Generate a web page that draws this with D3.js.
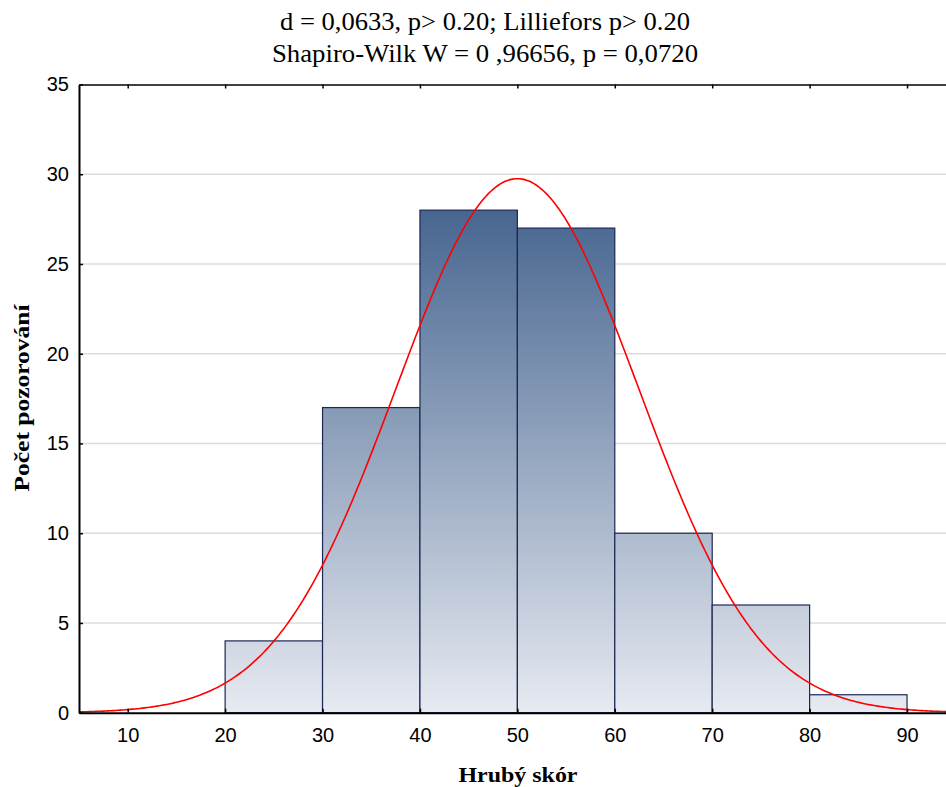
<!DOCTYPE html>
<html lang="sk">
<head>
<meta charset="UTF-8">
<title>Histogram</title>
<script src="https://d3js.org/d3.v7.min.js"></script>
<style>
	body{ margin:0; background:#fff; }
	svg{ display:block; }
	.tick text{ font-family:"Liberation Sans", Arial, sans-serif; font-size:20px; fill:#000; }
</style>
</head>
<body>
<div id="chart"></div>
<script>
	// histogram bins (lower edge) and counts
	var binStart = [20, 30, 40, 50, 60, 70, 80];
	var counts = [4, 17, 28, 27, 10, 6, 1];
	var binWidth = 10;
	var xTicks = [10, 20, 30, 40, 50, 60, 70, 80, 90];
	var yTicks = [0, 5, 10, 15, 20, 25, 30, 35];
	// fitted normal curve
	var fitMean = 50.0;
	var fitSd = 12.47;
	var titleLines = ['d = 0,0633, p> 0.20; Lilliefors p> 0.20', 'Shapiro-Wilk W = 0 ,96656, p = 0,0720'];
	var titleWidths = [410, 426];

	var width = 946, height = 787;
	var plotLeft = 79, plotRight = 946, plotTop = 84.5, plotBottom = 712.7;

	var svg = d3.select('#chart').append('svg')
		.attr('width', width)
		.attr('height', height);

	var x = d3.scaleLinear().domain([5, 94]).range([plotLeft, plotRight]);
	var y = d3.scaleLinear().domain([0, 35]).range([plotBottom, plotTop]);

	// gradient for the bars, fixed to the plot
	var grad = svg.append('defs').append('linearGradient')
		.attr('id', 'barGrad')
		.attr('gradientUnits', 'userSpaceOnUse')
		.attr('x1', 0).attr('x2', 0)
		.attr('y1', y(28)).attr('y2', y(0));
	grad.append('stop').attr('offset', '0%').attr('stop-color', '#476690');
	grad.append('stop').attr('offset', '100%').attr('stop-color', '#e7eaf1');

	// gridlines
	svg.append('g').selectAll('line')
		.data(yTicks.filter(function(d){ return d > 0 && d < 35; }))
		.enter().append('line')
		.attr('x1', plotLeft).attr('x2', plotRight)
		.attr('y1', function(d){ return y(d); })
		.attr('y2', function(d){ return y(d); })
		.attr('stroke', '#dcdcdc')
		.attr('stroke-width', 1.5);

	// bars
	svg.append('g').selectAll('rect')
		.data(counts)
		.enter().append('rect')
		.attr('x', function(d, i){ return x(binStart[i]); })
		.attr('y', function(d){ return y(d); })
		.attr('width', function(d, i){ return x(binStart[i] + binWidth) - x(binStart[i]); })
		.attr('height', function(d){ return y(0) - y(d); })
		.attr('fill', 'url(#barGrad)')
		.attr('stroke', '#1c2755')
		.attr('stroke-width', 1.2);

	// normal curve
	var n = d3.sum(counts);
	var curveX = d3.range(5, 94.01, 0.25);
	var line = d3.line()
		.x(function(d){ return x(d); })
		.y(function(d){
			var z = (d - fitMean) / fitSd;
			return y(n * binWidth / (fitSd * Math.sqrt(2 * Math.PI)) * Math.exp(-0.5 * z * z));
		});
	svg.append('path')
		.datum(curveX)
		.attr('d', line)
		.attr('fill', 'none')
		.attr('stroke', '#ff0000')
		.attr('stroke-width', 1.6);

	// axes
	var xAxis = d3.axisBottom(x).tickValues(xTicks).tickSizeInner(-4).tickSizeOuter(0).tickPadding(15);
	var gx = svg.append('g').attr('transform', 'translate(0,' + plotBottom + ')').call(xAxis);
	gx.select('.domain').attr('stroke', '#000').attr('stroke-width', 2);
	gx.selectAll('.tick line').attr('stroke', '#000').attr('stroke-width', 1.5);

	var yAxis = d3.axisLeft(y).tickValues(yTicks).tickSizeInner(-4).tickSizeOuter(0).tickPadding(10);
	var gy = svg.append('g').attr('transform', 'translate(' + plotLeft + ',0)').call(yAxis);
	gy.select('.domain').attr('stroke', '#000').attr('stroke-width', 2);
	gy.selectAll('.tick line').attr('stroke', '#000').attr('stroke-width', 1.5);

	// top border with inward ticks
	var topAxis = d3.axisTop(x).tickValues(xTicks).tickSizeInner(-4).tickSizeOuter(0).tickFormat('');
	var gt = svg.append('g').attr('transform', 'translate(0,' + plotTop + ')').call(topAxis);
	gt.select('.domain').attr('stroke', '#000').attr('stroke-width', 1.5);
	gt.selectAll('.tick line').attr('stroke', '#000').attr('stroke-width', 1.5);

	// titles
	svg.append('g').selectAll('text')
		.data(titleLines)
		.enter().append('text')
		.attr('x', 485)
		.attr('y', function(d, i){ return 29.5 + i * 32; })
		.attr('text-anchor', 'middle')
		.attr('textLength', function(d, i){ return titleWidths[i]; })
		.attr('lengthAdjust', 'spacingAndGlyphs')
		.style('font-family', '"Liberation Serif", "Times New Roman", serif')
		.style('font-size', '25px')
		.text(function(d){ return d; });

	svg.append('text')
		.attr('x', 518)
		.attr('y', 782)
		.attr('text-anchor', 'middle')
		.attr('textLength', 119)
		.attr('lengthAdjust', 'spacingAndGlyphs')
		.style('font-family', '"Liberation Serif", "Times New Roman", serif')
		.style('font-size', '22px')
		.style('font-weight', 'bold')
		.text('Hrubý skór');

	svg.append('text')
		.attr('transform', 'translate(29,' + 398 + ') rotate(-90)')
		.attr('text-anchor', 'middle')
		.attr('textLength', 187)
		.attr('lengthAdjust', 'spacingAndGlyphs')
		.style('font-family', '"Liberation Serif", "Times New Roman", serif')
		.style('font-size', '22px')
		.style('font-weight', 'bold')
		.text('Počet pozorování');
</script>
</body>
</html>
